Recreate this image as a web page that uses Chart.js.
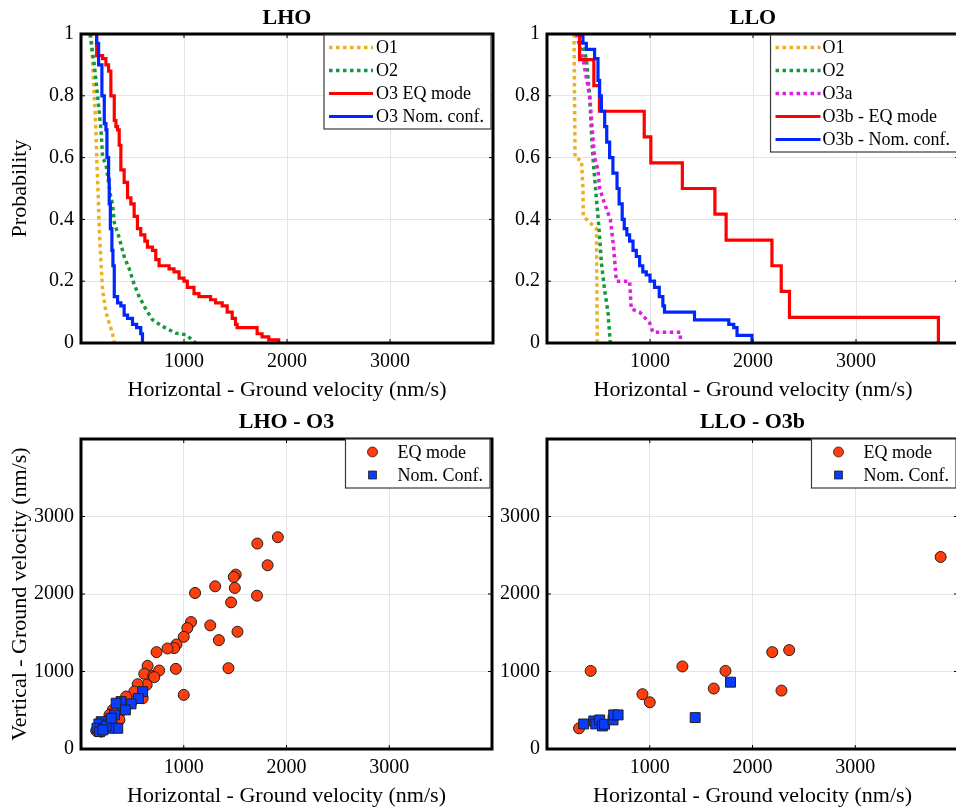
<!DOCTYPE html>
<html>
<head>
<meta charset="utf-8">
<title>LHO / LLO ground velocity</title>
<script src="https://cdn.jsdelivr.net/npm/chart.js@4.4.1/dist/chart.umd.min.js"></script>
<style>
  html, body { margin: 0; padding: 0; background: #fff; overflow: hidden; }
  #wrap { position: relative; width: 956px; height: 812px; overflow: hidden; }
  canvas { position: absolute; }
  #lhoCdf { left: 0; top: 0; }
  #lloCdf { left: 466px; top: 0; }
  #lhoScatter { left: 0; top: 403px; }
  #lloScatter { left: 466px; top: 403px; }
</style>
</head>
<body>
<div id="wrap">
  <canvas id="lhoCdf" width="500" height="403"></canvas>
  <canvas id="lloCdf" width="500" height="403"></canvas>
  <canvas id="lhoScatter" width="500" height="409"></canvas>
  <canvas id="lloScatter" width="500" height="409"></canvas>
</div>
<script>
// ---- data (velocities in nm/s) ----

// LHO exceedance curves
const lhoO1Vel = [100, 113, 129, 145, 155, 168, 177, 194, 210, 242, 274, 306, 323];
const lhoO1Prob = [1, 0.9, 0.8, 0.69, 0.58, 0.47, 0.37, 0.26, 0.17, 0.1, 0.065, 0.03, 0];

const lhoO2Vel = [87, 129, 161, 194, 210, 242, 290, 306, 323, 371, 419, 468, 516, 565, 629, 694, 790, 919, 1016, 1081, 1113];
const lhoO2Prob = [1, 0.9, 0.8, 0.69, 0.6, 0.58, 0.47, 0.45, 0.39, 0.34, 0.28, 0.24, 0.19, 0.15, 0.11, 0.075, 0.054, 0.032, 0.027, 0.01, 0];

const lhoEqVel = [152, 152, 210, 242, 268, 290, 323, 339, 355, 371, 387, 419, 452, 484, 516, 548, 580, 620, 645, 694, 726, 758, 855, 903, 952, 1000, 1032, 1097, 1145, 1258, 1306, 1371, 1419, 1468, 1500, 1516, 1710, 1758, 1823, 1919];
const lhoEqProb = [1, 0.93, 0.92, 0.9, 0.88, 0.8, 0.72, 0.7, 0.69, 0.64, 0.56, 0.52, 0.47, 0.45, 0.41, 0.37, 0.35, 0.33, 0.31, 0.3, 0.27, 0.25, 0.24, 0.23, 0.21, 0.2, 0.18, 0.16, 0.15, 0.14, 0.13, 0.12, 0.1, 0.08, 0.06, 0.05, 0.03, 0.02, 0.01, 0];

const lhoNomVel = [152, 152, 171, 203, 226, 242, 252, 268, 274, 285, 300, 310, 323, 355, 387, 419, 452, 500, 540, 580, 597];
const lhoNomProb = [1, 0.97, 0.9, 0.8, 0.71, 0.69, 0.6, 0.53, 0.45, 0.37, 0.3, 0.25, 0.15, 0.13, 0.12, 0.09, 0.08, 0.06, 0.05, 0.03, 0];

// LLO exceedance curves
const lloO1Vel = [262, 266, 270, 272, 335, 349, 352, 385, 480, 484, 488];
const lloO1Prob = [1, 0.85, 0.7, 0.6, 0.59, 0.5, 0.41, 0.4, 0.37, 0.2, 0];

const lloO2Vel = [318, 382, 414, 430, 446, 479, 505, 528, 560, 592, 615];
const lloO2Prob = [1, 0.92, 0.8, 0.69, 0.6, 0.47, 0.37, 0.26, 0.17, 0.1, 0];

const lloO3aVel = [285, 349, 414, 440, 462, 495, 511, 560, 615, 647, 673, 802, 818, 899, 996, 1028, 1295, 1295];
const lloO3aProb = [1, 0.92, 0.8, 0.69, 0.6, 0.56, 0.5, 0.45, 0.4, 0.31, 0.2, 0.2, 0.11, 0.1, 0.065, 0.035, 0.035, 0];

const lloEqVel = [316, 316, 455, 509, 944, 1008, 1314, 1630, 1739, 2184, 2274, 2354, 3800];
const lloEqProb = [1, 0.917, 0.833, 0.75, 0.667, 0.583, 0.5, 0.417, 0.333, 0.25, 0.167, 0.083, 0];

const lloNomVel = [349, 349, 382, 462, 495, 511, 528, 560, 580, 608, 640, 680, 700, 730, 750, 775, 802, 835, 867, 899, 930, 964, 1000, 1044, 1090, 1125, 1141, 1432, 1765, 1813, 1845, 1990];
const lloNomProb = [1, 0.97, 0.95, 0.92, 0.85, 0.8, 0.75, 0.7, 0.65, 0.6, 0.55, 0.5, 0.45, 0.4, 0.37, 0.35, 0.33, 0.3, 0.28, 0.25, 0.23, 0.22, 0.2, 0.18, 0.15, 0.12, 0.1, 0.075, 0.06, 0.05, 0.025, 0];

// LHO - O3 horizontal vs vertical
const lhoEqH = [1916, 1716, 1816, 1506, 1487, 1497, 1306, 1110, 1713, 1461, 1071, 1035, 1000, 1258, 1342, 1523, 929, 906, 842, 735, 1435, 923, 1000, 648, 616, 703, 761, 713, 639, 552, 519, 600, 487, 439, 406, 374, 310, 277, 261, 213, 181, 148, 197, 374, 326];
const lhoEqV = [2733, 2651, 2371, 2250, 2220, 2078, 2099, 2013, 1978, 1892, 1638, 1560, 1448, 1595, 1405, 1513, 1349, 1302, 1297, 1250, 1043, 1034, 698, 1073, 970, 944, 1013, 927, 828, 836, 741, 655, 591, 677, 547, 461, 504, 440, 375, 332, 289, 237, 224, 375, 289];
const lhoNomH = [600, 558, 487, 390, 342, 326, 432, 358, 271, 197, 174, 155, 181, 245, 294, 213];
const lhoNomV = [741, 651, 582, 612, 591, 440, 504, 267, 267, 353, 323, 267, 224, 297, 397, 246];

// LLO - O3b horizontal vs vertical
const lloEqH = [312, 425, 929, 1000, 1318, 1623, 1737, 2192, 2282, 2357, 3831];
const lloEqV = [267, 1008, 707, 603, 1065, 780, 1008, 1250, 754, 1276, 2478];
const lloNomH = [357, 455, 474, 513, 539, 560, 643, 649, 692, 1442, 1786];
const lloNomV = [323, 362, 323, 375, 297, 320, 375, 440, 440, 405, 862];

const velTicks = [0, 1000, 2000, 3000, 4000];

// ---- drawing helpers ----
const SERIF = "'Liberation Serif', 'Times New Roman', serif";
const GRID = '#e4e4e4';

function toPoints(xs, ys) {
    return xs.map((x, i) => ({ x: x, y: ys[i] }));
}

function curve(label, xs, ys, color, dotted, order) {
    return {
        label: label,
        data: toPoints(xs, ys),
        borderColor: color,
        backgroundColor: color,
        borderWidth: dotted ? 3.5 : 3.2,
        borderDash: dotted ? [3.5, 3.5] : [],
        // horizontal run first, then the drop (survival-curve steps)
        stepped: dotted ? false : 'before',
        pointRadius: 0,
        fill: false,
        tension: 0,
        order: order
    };
}

function markers(label, xs, ys, color, style, radius, order) {
    return {
        label: label,
        data: toPoints(xs, ys),
        backgroundColor: color,
        borderColor: '#1e1e1e',
        borderWidth: 1,
        pointStyle: style,
        pointRadius: radius,
        order: order
    };
}

// black frame round the plot area plus small inward ticks
const boxFrame = {
    id: 'boxFrame',
    afterDatasetsDraw(chart) {
        const { ctx, chartArea: a, scales } = chart;
        ctx.save();
        ctx.strokeStyle = '#000';
        ctx.lineWidth = 1;
        scales.x.ticks.forEach(t => {
            const px = scales.x.getPixelForValue(t.value);
            ctx.beginPath();
            ctx.moveTo(px, a.bottom); ctx.lineTo(px, a.bottom - 4);
            ctx.moveTo(px, a.top); ctx.lineTo(px, a.top + 4);
            ctx.stroke();
        });
        scales.y.ticks.forEach(t => {
            const py = scales.y.getPixelForValue(t.value);
            ctx.beginPath();
            ctx.moveTo(a.left, py); ctx.lineTo(a.left + 4, py);
            ctx.moveTo(a.right, py); ctx.lineTo(a.right - 4, py);
            ctx.stroke();
        });
        ctx.lineWidth = 3;
        ctx.strokeRect(a.left, a.top, a.right - a.left, a.bottom - a.top);
        ctx.restore();
    }
};

// MATLAB-like legend box in the top-right corner of the plot area
const boxLegend = {
    id: 'boxLegend',
    afterDraw(chart, args, opts) {
        const { ctx, chartArea: a } = chart;
        const sets = chart.data.datasets;
        ctx.save();
        ctx.font = opts.fontSize + 'px ' + SERIF;
        const textW = Math.max(...sets.map(d => ctx.measureText(d.label).width));
        const w = opts.textX + textW + opts.padR;
        const h = sets.length * opts.rowH + opts.padY * 2;
        const x0 = a.right - opts.insetRight - w;
        const y0 = a.top + opts.insetTop;
        ctx.fillStyle = '#fff';
        ctx.fillRect(x0, y0, w, h);
        ctx.strokeStyle = '#3a3a3a';
        ctx.lineWidth = 1.2;
        ctx.strokeRect(x0, y0, w, h);

        sets.forEach((d, i) => {
            const cy = y0 + opts.padY + opts.rowH * (i + 0.5);
            if (opts.kind === 'line') {
                ctx.strokeStyle = d.borderColor;
                ctx.lineWidth = d.borderWidth;
                ctx.setLineDash(d.borderDash || []);
                ctx.beginPath();
                ctx.moveTo(x0 + opts.padL, cy);
                ctx.lineTo(x0 + opts.padL + opts.sampleW, cy);
                ctx.stroke();
                ctx.setLineDash([]);
            } else {
                const mx = x0 + opts.markerX;
                ctx.fillStyle = d.backgroundColor;
                ctx.strokeStyle = d.borderColor;
                ctx.lineWidth = 0.8;
                ctx.beginPath();
                if (d.pointStyle === 'rect') {
                    ctx.rect(mx - 4, cy - 4, 8, 8);
                } else {
                    ctx.arc(mx, cy, 5, 0, Math.PI * 2);
                }
                ctx.fill();
                ctx.stroke();
            }
            ctx.fillStyle = '#000';
            ctx.textBaseline = 'middle';
            ctx.textAlign = 'left';
            ctx.fillText(d.label, x0 + opts.textX, cy + 1);
        });
        ctx.restore();
    }
};

function buildOptions(cfg) {
    return {
        responsive: false,
        animation: false,
        events: [],
        layout: { padding: { right: 6, bottom: cfg.padBottom } },
        scales: {
            x: {
                type: 'linear',
                min: 0,
                max: 4000,
                afterBuildTicks: s => { s.ticks = velTicks.map(v => ({ value: v })); },
                ticks: {
                    padding: 7,
                    color: '#000',
                    maxRotation: 0,
                    font: { family: SERIF, size: 20 },
                    callback: v => (v === 0 || v === 4000) ? '' : String(v)
                },
                grid: { color: GRID, drawTicks: false },
                border: { display: false },
                title: {
                    display: true,
                    text: 'Horizontal - Ground velocity (nm/s)',
                    color: '#000',
                    font: { family: SERIF, size: 22 },
                    padding: 0
                },
                afterFit: s => { s.height = 60; }
            },
            y: {
                type: 'linear',
                min: 0,
                max: cfg.yMax,
                ticks: {
                    stepSize: cfg.yStep,
                    padding: 7,
                    color: '#000',
                    font: { family: SERIF, size: 20 },
                    callback: cfg.yLabel
                },
                grid: { color: GRID, drawTicks: false },
                border: { display: false },
                title: {
                    display: !!cfg.yTitle,
                    text: cfg.yTitle || '',
                    color: '#000',
                    font: { family: SERIF, size: 22 },
                    padding: { top: 7, bottom: 0 }
                },
                afterFit: s => { s.width = 81; }
            }
        },
        plugins: {
            legend: { display: false },
            tooltip: { enabled: false },
            title: {
                display: true,
                text: cfg.title,
                fullSize: false,
                color: '#000',
                font: { family: SERIF, size: 22, weight: 'bold' },
                padding: cfg.titlePad
            },
            boxLegend: cfg.legend
        }
    };
}

const probLabel = v => String(+v.toFixed(1));
const velLabel = v => v === 4000 ? '' : String(v);

const lineLegend = { kind: 'line', fontSize: 18, rowH: 23, padY: 1, padL: 5, sampleW: 44, textX: 52, padR: 7, insetTop: 1, insetRight: 2 };
const markerLegend = { kind: 'marker', fontSize: 18, rowH: 23, padY: 1.5, markerX: 27, textX: 52, padR: 7, insetTop: 0, insetRight: 2 };

// ---- the four panels ----
new Chart(document.getElementById('lhoCdf'), {
    type: 'line',
    data: {
        datasets: [
            curve('O1', lhoO1Vel, lhoO1Prob, '#edb120', true, 4),
            curve('O2', lhoO2Vel, lhoO2Prob, '#149a3a', true, 3),
            curve('O3 EQ mode', lhoEqVel, lhoEqProb, '#ff0000', false, 2),
            curve('O3 Nom. conf.', lhoNomVel, lhoNomProb, '#0026ff', false, 1)
        ]
    },
    options: buildOptions({ title: 'LHO', titlePad: { top: 4.8, bottom: 2.8 }, padBottom: 0, yMax: 1, yStep: 0.2, yLabel: probLabel, yTitle: 'Probability', legend: lineLegend }),
    plugins: [boxFrame, boxLegend]
});

new Chart(document.getElementById('lloCdf'), {
    type: 'line',
    data: {
        datasets: [
            curve('O1', lloO1Vel, lloO1Prob, '#edb120', true, 5),
            curve('O2', lloO2Vel, lloO2Prob, '#149a3a', true, 4),
            curve('O3a', lloO3aVel, lloO3aProb, '#e01ee0', true, 3),
            curve('O3b - EQ mode', lloEqVel, lloEqProb, '#ff0000', false, 2),
            curve('O3b - Nom. conf.', lloNomVel, lloNomProb, '#0026ff', false, 1)
        ]
    },
    options: buildOptions({ title: 'LLO', titlePad: { top: 4.8, bottom: 2.8 }, padBottom: 0, yMax: 1, yStep: 0.2, yLabel: probLabel, yTitle: null, legend: Object.assign({}, lineLegend, { sampleW: 45 }) }),
    plugins: [boxFrame, boxLegend]
});

new Chart(document.getElementById('lhoScatter'), {
    type: 'scatter',
    data: {
        datasets: [
            markers('EQ mode', lhoEqH, lhoEqV, '#ff3d0d', 'circle', 5.5, 2),
            markers('Nom. Conf.', lhoNomH, lhoNomV, '#0a3cff', 'rect', 7, 1)
        ]
    },
    options: buildOptions({ title: 'LHO - O3', titlePad: { top: 5.8, bottom: 3.8 }, padBottom: 3, yMax: 4000, yStep: 1000, yLabel: velLabel, yTitle: 'Vertical - Ground velocity (nm/s)', legend: markerLegend }),
    plugins: [boxFrame, boxLegend]
});

new Chart(document.getElementById('lloScatter'), {
    type: 'scatter',
    data: {
        datasets: [
            markers('EQ mode', lloEqH, lloEqV, '#ff3d0d', 'circle', 5.5, 2),
            markers('Nom. Conf.', lloNomH, lloNomV, '#0a3cff', 'rect', 7, 1)
        ]
    },
    options: buildOptions({ title: 'LLO - O3b', titlePad: { top: 5.8, bottom: 3.8 }, padBottom: 3, yMax: 4000, yStep: 1000, yLabel: velLabel, yTitle: null, legend: markerLegend }),
    plugins: [boxFrame, boxLegend]
});
</script>
</body>
</html>
